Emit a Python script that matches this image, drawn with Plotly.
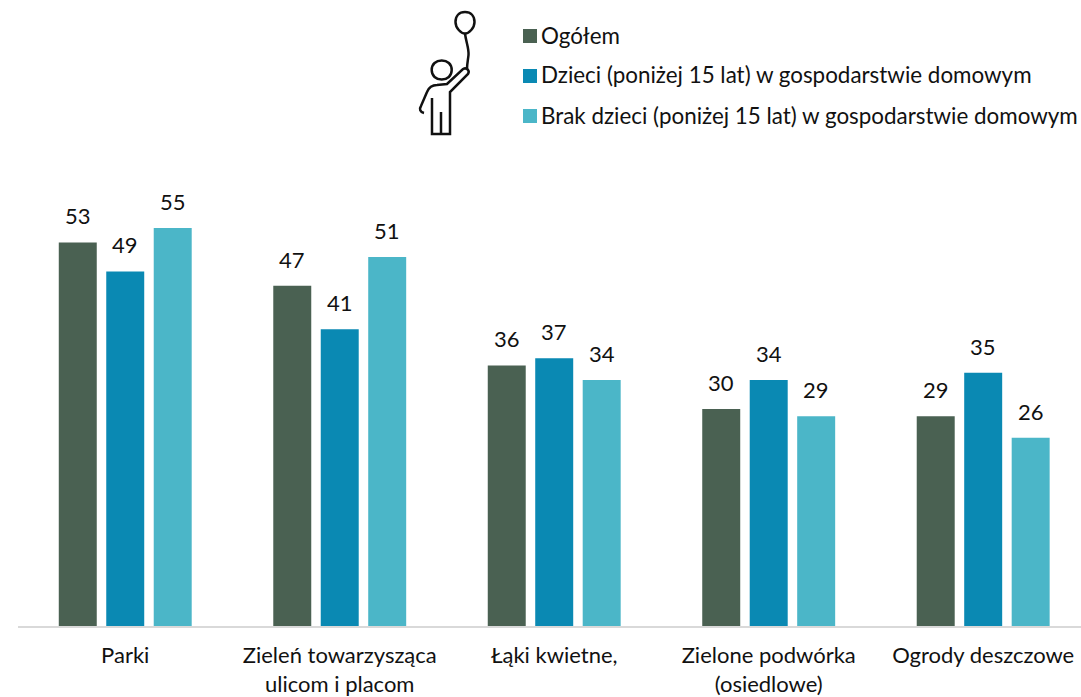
import plotly.graph_objects as go

categories = ["Parki", "Zieleń towarzysząca<br>ulicom i placom", "Łąki kwietne,", "Zielone podwórka<br>(osiedlowe)", "Ogrody deszczowe"]
series_names = ["Ogółem", "Dzieci (poniżej 15 lat) w gospodarstwie domowym", "Brak dzieci (poniżej 15 lat) w gospodarstwie domowym"]
ogolem = [53, 47, 36, 30, 29]
dzieci = [49, 41, 37, 34, 35]
brak = [55, 51, 34, 29, 26]
colors = ["#4A6152", "#0A89B3", "#4BB6C8"]

W, H = 1081, 697
L, B = 18, 71
FONT = "Lato"
TXT = "#111111"
SIZE = 22

def px(x):
    return (x - L) / (W - L)
def py(y):
    return (H - B - y) / (H - B)

fig = go.Figure()
all_series = [ogolem, dzieci, brak]
for name, vals, c in zip(series_names, all_series, colors):
    fig.add_bar(x=list(range(5)), y=vals, name=name, marker=dict(color=c, line=dict(width=0)), showlegend=False)

annotations = []
for s, (vals, shift) in enumerate(zip(all_series, [-47.5, 0, 47.5])):
    for i, v in enumerate(vals):
        annotations.append(dict(x=i, y=v, xref="x", yref="y", text=str(v), showarrow=False,
                                xshift=shift, yshift=11, yanchor="bottom", font=dict(family=FONT, size=SIZE, color=TXT)))

shapes = []
for (name, c, cy) in zip(series_names, colors, [36, 76, 116]):
    shapes.append(dict(type="rect", xref="paper", yref="paper", x0=px(523), x1=px(537), y0=py(cy + 7), y1=py(cy - 7),
                       fillcolor=c, line=dict(width=0), layer="above"))
    annotations.append(dict(x=px(539), y=py(cy - 1), xref="paper", yref="paper", text=name, showarrow=False,
                            xanchor="left", yanchor="middle", font=dict(family=FONT, size=22.4, color=TXT)))

def path(points):
    seg = []
    for p in points:
        if isinstance(p, str):
            seg.append(p)
        else:
            seg.append(f"{px(p[0]):.5f},{py(p[1]):.5f}")
    return " ".join(seg)

icon = dict(type="path", xref="paper", yref="paper", line=dict(color="#111111", width=2.5), layer="above")
icon_paths = [
    # balloon
    ["M", (465, 12), "C", (459, 12), (455.5, 16), (455.5, 22), "C", (455.5, 28), (461, 33.5), (465, 33.5), "C", (469, 33.5), (474.5, 28), (474.5, 22), "C", (474.5, 16), (471, 12), (465, 12)],
    # string
    ["M", (465, 33.5), "C", (466, 42), (469, 48), (468.5, 55), "C", (468, 60), (467, 64), (467, 69)],
    # head
    ["M", (431.7, 70), "C", (431.7, 64), (436, 60.5), (441.7, 60.5), "C", (447.4, 60.5), (451.7, 64), (451.7, 70), "C", (451.7, 76), (447.4, 79.5), (441.7, 79.5), "C", (436, 79.5), (431.7, 76), (431.7, 70)],
    # body
    ["M", (424, 113), "C", (420, 112), (419, 109), (421, 106), "L", (427, 92), "C", (429, 87), (433, 85), (437, 85), "L", (447, 84), "L", (463, 69), "C", (467, 67), (470, 71), (468, 74), "L", (450, 92), "L", (450, 134), "L", (432, 134), "L", (432, 98)],
    # legs
    ["M", (441, 112), "L", (441, 134)],
]
for p in icon_paths:
    shapes.append({**icon, "path": path(p)})

fig.update_layout(
    width=W, height=H, margin=dict(l=L, r=0, t=0, b=B, pad=0, autoexpand=False),
    paper_bgcolor="white", plot_bgcolor="white",
    barmode="group", bargap=0.336, bargroupgap=0.2,
    showlegend=False, annotations=annotations, shapes=shapes,
    xaxis=dict(range=[-0.5, 4.456], tickmode="array", tickvals=list(range(5)), ticktext=categories,
               automargin=False,
               showgrid=False, zeroline=False, showline=True, linecolor="#D9D9D9", linewidth=2,
               ticks="", ticklabelstandoff=9, tickfont=dict(family=FONT, size=SIZE, color=TXT)),
    yaxis=dict(range=[0, 86.5], visible=False, showgrid=False, zeroline=False),
)
fig.write_html("out.html", config=dict(displayModeBar=False),
               post_script="document.body.style.margin='0';document.body.style.overflow='hidden';")
